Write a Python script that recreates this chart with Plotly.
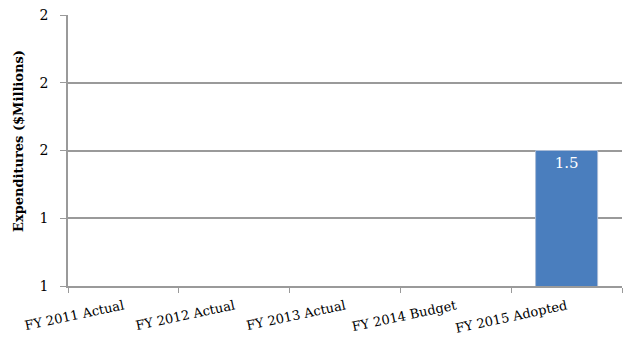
import plotly.graph_objects as go

categories = ["FY 2011 Actual", "FY 2012 Actual", "FY 2013 Actual", "FY 2014 Budget", "FY 2015 Adopted"]
expenditures = [0, 0, 0, 0, 1.5]
bar_labels = ["", "", "", "", "1.5"]
y_tick_values = [1, 1.25, 1.5, 1.75, 2]
y_tick_labels = ["1", "1", "2", "2", "2"]
y_title = "Expenditures ($Millions)"

serif = "'DejaVu Serif', 'Liberation Serif', serif"

fig = go.Figure(
    go.Bar(
        x=categories,
        y=expenditures,
        text=bar_labels,
        textposition="inside",
        insidetextanchor="end",
        textfont=dict(family=serif, size=15, color="white"),
        marker=dict(color="#4A7EBE", line=dict(color="#A9BBD6", width=1)),
        width=0.56,
        cliponaxis=True,
    )
)

# Axis title placed as a rotated annotation, sitting a little above the plot centre
fig.add_annotation(
    text=f"<b>{y_title}</b>",
    xref="paper", yref="paper",
    x=-50 / 554, y=(286 - 141) / 271,
    xanchor="center", yanchor="middle",
    textangle=-90,
    showarrow=False,
    font=dict(family=serif, size=13, color="black"),
)

fig.update_layout(
    width=625,
    height=345,
    margin=dict(l=68, r=3, t=15, b=59),
    paper_bgcolor="white",
    plot_bgcolor="white",
    showlegend=False,
    font=dict(family=serif, size=13, color="black"),
    xaxis=dict(
        tickangle=-12,
        tickson="boundaries",
        ticks="outside",
        ticklen=5,
        tickcolor="#9a9a9a",
        showline=True,
        linecolor="#9a9a9a",
        linewidth=1.5,
        showgrid=False,
        ticklabelstandoff=6,
        tickfont=dict(family=serif, size=13),
    ),
    yaxis=dict(
        range=[1, 2],
        tickvals=y_tick_values,
        ticktext=y_tick_labels,
        ticks="outside",
        ticklen=6,
        tickcolor="#9a9a9a",
        showline=True,
        linecolor="#9a9a9a",
        linewidth=1.5,
        showgrid=True,
        gridcolor="#9a9a9a",
        gridwidth=1.5,
        zeroline=False,
        ticklabelstandoff=9,
        tickfont=dict(family=serif, size=14),
    ),
)

fig.write_html("out.html")
